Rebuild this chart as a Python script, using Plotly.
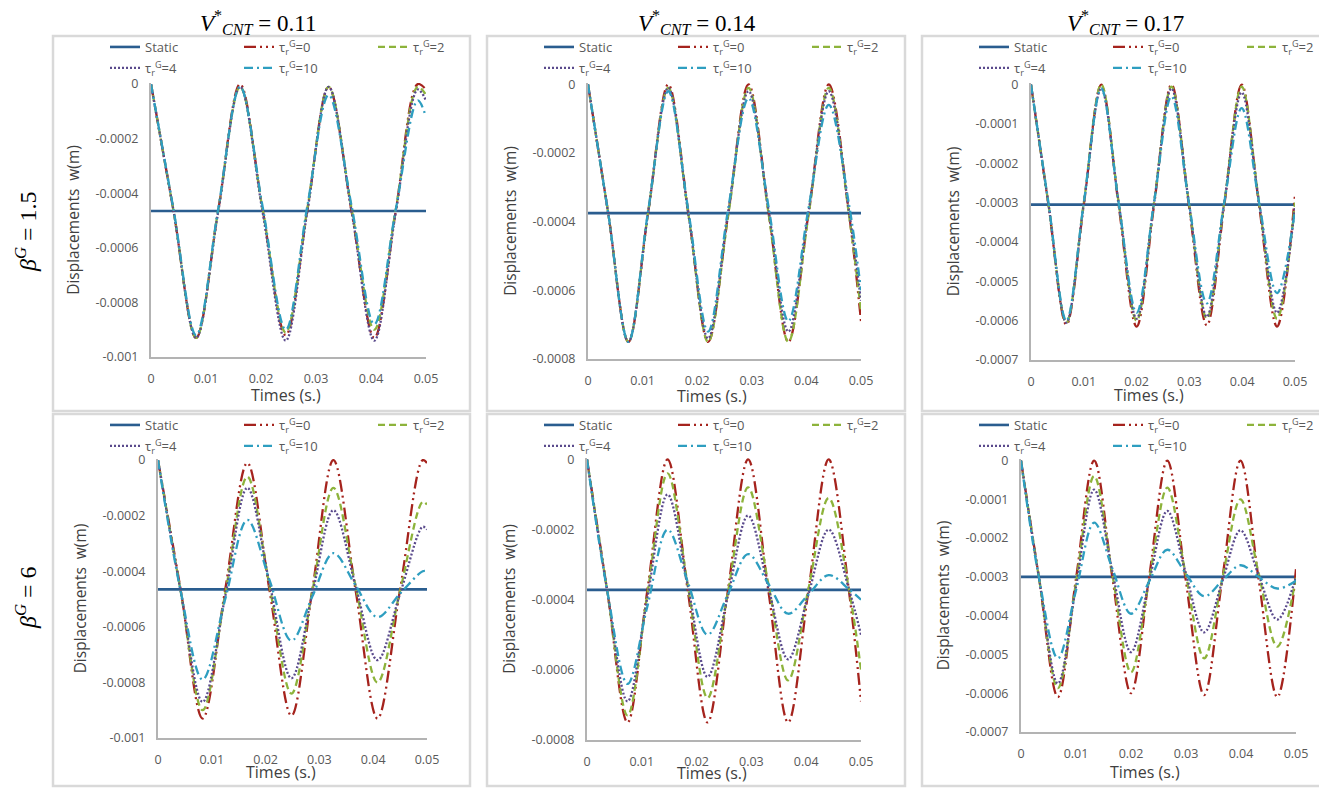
import plotly.graph_objects as go

# The page body has an 8px default margin, so the figure is sized to fill the window after it.
OFF = 8
FW, FH = 1327 - OFF, 789 - OFF


def fx(px):
    return (px - OFF) / FW


def fy(py):
    return 1 - (py - OFF) / FH


# ---------------- data ----------------
series_names = ["Static",
                "τ<sub>r</sub><sup>G</sup>=0",
                "τ<sub>r</sub><sup>G</sup>=2",
                "τ<sub>r</sub><sup>G</sup>=4",
                "τ<sub>r</sub><sup>G</sup>=10"]
col_values = ["0.11", "0.14", "0.17"]
row_values = ["1.5", "6"]

x_ticks = [0, 0.01, 0.02, 0.03, 0.04, 0.05]
x_tick_text = ["0", "0.01", "0.02", "0.03", "0.04", "0.05"]
y_ticks_a = [0, -0.0002, -0.0004, -0.0006, -0.0008, -0.001]
y_tick_text_a = ["0", "-0.0002", "-0.0004", "-0.0006", "-0.0008", "-0.001"]
y_ticks_b = [0, -0.0002, -0.0004, -0.0006, -0.0008]
y_tick_text_b = ["0", "-0.0002", "-0.0004", "-0.0006", "-0.0008"]
y_ticks_c = [0, -0.0001, -0.0002, -0.0003, -0.0004, -0.0005, -0.0006, -0.0007]
y_tick_text_c = ["0", "-0.0001", "-0.0002", "-0.0003", "-0.0004", "-0.0005", "-0.0006", "-0.0007"]

# Panel A: V*=0.11, beta=1.5
t_A = [0, 0.0041, 0.0082, 0.0122, 0.0162, 0.0203, 0.0245, 0.0284, 0.0323, 0.0365, 0.0406, 0.0445, 0.0485, 0.05]
static_A = [-0.000465, -0.000465]
w0_A = [0, -0.000465, -0.00093, -0.000465, 0, -0.00046, -0.00092, -0.000465, -0.00001, -0.00047, -0.00093, -0.000465, 0, -0.00002]
w2_A = [0, -0.000465, -0.00093, -0.000465, -0.00001, -0.00046, -0.00091, -0.00046, -0.00001, -0.00046, -0.0009, -0.00046, -0.00001, -0.00004]
w4_A = [0, -0.000465, -0.00093, -0.00047, -0.00001, -0.00047, -0.00094, -0.00047, -0.00001, -0.00047, -0.00094, -0.00047, -0.00002, -0.00006]
w10_A = [0, -0.00046, -0.00092, -0.00046, -0.00001, -0.00045, -0.0009, -0.00045, -0.00004, -0.00045, -0.00088, -0.00046, -0.00006, -0.00012]

# Panel B: V*=0.14, beta=1.5
t_B = [0, 0.0037, 0.0074, 0.011, 0.0147, 0.0184, 0.022, 0.0257, 0.0294, 0.0331, 0.0367, 0.0404, 0.0441, 0.0478, 0.05]
static_B = [-0.000375, -0.000375]
w0_B = [0, -0.000375, -0.00075, -0.000375, 0, -0.000375, -0.00075, -0.000375, 0, -0.000375, -0.00075, -0.000375, 0, -0.000375, -0.00069]
w2_B = [0, -0.000375, -0.00075, -0.000375, -0.00001, -0.00038, -0.00075, -0.00038, -0.00001, -0.00038, -0.00075, -0.00038, -0.00001, -0.00038, -0.00066]
w4_B = [0, -0.000375, -0.00075, -0.000375, -0.00001, -0.00038, -0.00074, -0.00037, -0.00002, -0.00037, -0.00072, -0.00037, -0.00002, -0.00037, -0.00063]
w10_B = [0, -0.000375, -0.00075, -0.00037, -0.00002, -0.00037, -0.00072, -0.00036, -0.00004, -0.00036, -0.00069, -0.00036, -0.00006, -0.00035, -0.0006]

# Panel C: V*=0.17, beta=1.5
t_C = [0, 0.0033, 0.0067, 0.01, 0.0133, 0.0166, 0.02, 0.0233, 0.0266, 0.0299, 0.0333, 0.0366, 0.0399, 0.0432, 0.0466, 0.05]
static_C = [-0.000305, -0.000305]
w0_C = [0, -0.000305, -0.00061, -0.000305, 0, -0.000307, -0.000615, -0.000307, 0, -0.000306, -0.000612, -0.000307, 0, -0.000307, -0.000615, -0.00028]
w2_C = [0, -0.000303, -0.000605, -0.0003, 0, -0.0003, -0.0006, -0.0003, -0.000005, -0.0003, -0.000595, -0.0003, -0.000005, -0.0003, -0.000595, -0.0003]
w4_C = [0, -0.000303, -0.000605, -0.000303, -0.00001, -0.0003, -0.000595, -0.0003, -0.00001, -0.0003, -0.00059, -0.0003, -0.00002, -0.0003, -0.00058, -0.00031]
w10_C = [0, -0.0003, -0.0006, -0.0003, -0.00001, -0.0003, -0.00058, -0.0003, -0.00003, -0.0003, -0.000556, -0.0003, -0.00006, -0.0003, -0.00053, -0.00032]

# Panel D: V*=0.11, beta=6
t_D = [0, 0.0042, 0.0083, 0.0125, 0.0166, 0.0207, 0.0248, 0.0287, 0.0326, 0.0367, 0.0408, 0.045, 0.0492, 0.05]
static_D = [-0.000465, -0.000465]
w0_D = [0, -0.000465, -0.00093, -0.000465, -0.00001, -0.000465, -0.00092, -0.000465, 0, -0.000465, -0.00093, -0.000465, 0, -0.00001]
w2_D = [0, -0.00047, -0.0009, -0.00048, -0.00006, -0.00045, -0.00084, -0.00047, -0.0001, -0.00045, -0.0008, -0.00047, -0.00015, -0.00016]
w4_D = [0, -0.00047, -0.00087, -0.00049, -0.0001, -0.00044, -0.000785, -0.00048, -0.00018, -0.00045, -0.00072, -0.00048, -0.00024, -0.00025]
w10_D = [0, -0.00047, -0.00079, -0.0005, -0.000215, -0.00043, -0.00065, -0.00049, -0.000335, -0.00045, -0.000565, -0.00048, -0.0004, -0.0004]

# Panel E: V*=0.14, beta=6
t_E = [0, 0.0037, 0.0074, 0.011, 0.0147, 0.0184, 0.022, 0.0257, 0.0294, 0.0331, 0.0367, 0.0404, 0.0441, 0.0478, 0.05]
static_E = [-0.000372, -0.000372]
w0_E = [0, -0.000375, -0.00075, -0.000375, 0, -0.000375, -0.00075, -0.000375, 0, -0.000375, -0.00075, -0.000375, 0, -0.000375, -0.00069]
w2_E = [0, -0.000375, -0.00073, -0.000385, -0.00004, -0.00036, -0.00068, -0.00038, -0.00008, -0.000355, -0.00063, -0.00037, -0.00011, -0.00037, -0.0006]
w4_E = [0, -0.000375, -0.00069, -0.000395, -0.0001, -0.00036, -0.00062, -0.00039, -0.00016, -0.000365, -0.00057, -0.000385, -0.0002, -0.00037, -0.0005]
w10_E = [0, -0.000375, -0.00064, -0.00042, -0.0002, -0.00035, -0.0005, -0.000385, -0.00027, -0.000355, -0.00044, -0.000385, -0.00033, -0.00037, -0.0004]

# Panel F: V*=0.17, beta=6
t_F = [0, 0.0033, 0.0067, 0.01, 0.0133, 0.0166, 0.02, 0.0233, 0.0266, 0.0299, 0.0333, 0.0366, 0.0399, 0.0432, 0.0466, 0.05]
static_F = [-0.0003, -0.0003]
w0_F = [0, -0.000305, -0.00061, -0.000305, 0, -0.0003, -0.0006, -0.0003, 0, -0.000303, -0.000605, -0.000305, 0, -0.000305, -0.00061, -0.00028]
w2_F = [0, -0.000305, -0.000587, -0.000315, -0.00004, -0.000293, -0.000546, -0.000308, -0.00007, -0.00029, -0.00051, -0.000305, -0.0001, -0.00029, -0.00048, -0.0003]
w4_F = [0, -0.000305, -0.000575, -0.000325, -0.000075, -0.000285, -0.000494, -0.000312, -0.00013, -0.000287, -0.000443, -0.000312, -0.00018, -0.000295, -0.00041, -0.0003]
w10_F = [0, -0.000305, -0.00051, -0.000335, -0.00016, -0.000278, -0.000395, -0.000312, -0.00023, -0.00029, -0.00035, -0.00031, -0.00027, -0.0003, -0.00033, -0.00031]

# ---------------- styling / layout ----------------
line_styles = [
    dict(color="#2A5D8F", width=2.6, dash="solid"),
    dict(color="#A5231D", width=2.3, dash="12px,4px,2px,4px,2px,4px"),
    dict(color="#8DB33B", width=2.3, dash="7px,4px"),
    dict(color="#5A4A8C", width=2.3, dash="2px,2px"),
    dict(color="#2E9EC0", width=2.3, dash="9px,4px,2px,4px"),
]

# pixel geometry (window pixels): axis (x0, x1, y_top, y_bottom), box (x0, y0, x1, y1), x-title centre
panels = [
    dict(t=t_A, st=static_A, ws=[w0_A, w2_A, w4_A, w10_A], yt=y_ticks_a, ytt=y_tick_text_a, ymin=-0.001,
         ax=(151, 426, 83, 357), box=(53, 36, 470, 411), xt=(286, 395)),
    dict(t=t_B, st=static_B, ws=[w0_B, w2_B, w4_B, w10_B], yt=y_ticks_b, ytt=y_tick_text_b, ymin=-0.0008,
         ax=(588, 861, 83, 359), box=(487, 36, 905, 411), xt=(712, 396)),
    dict(t=t_C, st=static_C, ws=[w0_C, w2_C, w4_C, w10_C], yt=y_ticks_c, ytt=y_tick_text_c, ymin=-0.0007,
         ax=(1031, 1295, 83, 360), box=(922, 36, 1322, 411), xt=(1149, 395)),
    dict(t=t_D, st=static_D, ws=[w0_D, w2_D, w4_D, w10_D], yt=y_ticks_a, ytt=y_tick_text_a, ymin=-0.001,
         ax=(158, 427, 459, 738), box=(53, 414, 470, 786), xt=(281, 772)),
    dict(t=t_E, st=static_E, ws=[w0_E, w2_E, w4_E, w10_E], yt=y_ticks_b, ytt=y_tick_text_b, ymin=-0.0008,
         ax=(587, 861, 458, 740), box=(487, 414, 905, 786), xt=(712, 773)),
    dict(t=t_F, st=static_F, ws=[w0_F, w2_F, w4_F, w10_F], yt=y_ticks_c, ytt=y_tick_text_c, ymin=-0.0007,
         ax=(1021, 1296, 459, 732), box=(922, 414, 1322, 786), xt=(1145, 772)),
]

fig = go.Figure()
layout = dict(width=FW, height=FH, margin=dict(l=0, r=0, t=0, b=0, autoexpand=False), autosize=False,
              paper_bgcolor="white", plot_bgcolor="white",
              font=dict(family="Open Sans", color="#595959"), showlegend=True)
shapes = []
annotations = []

for i, p in enumerate(panels):
    n = i + 1
    xa = "x" if n == 1 else f"x{n}"
    ya = "y" if n == 1 else f"y{n}"
    leg1 = "legend" if n == 1 else f"legend{2 * n - 1}"
    leg2 = f"legend{2 * n}"
    t = p["t"]
    ys = [p["st"]] + p["ws"]
    xs = [[t[0], t[-1]]] + [t] * 4
    for k in range(5):
        fig.add_trace(go.Scatter(
            x=xs[k], y=ys[k], mode="lines", name=series_names[k],
            line=dict(shape="spline" if k > 0 else "linear", smoothing=1.0, **line_styles[k]),
            xaxis=xa, yaxis=ya, legend=leg1 if k < 3 else leg2, showlegend=True,
            hoverinfo="skip"))
    x0, x1, yt, yb = p["ax"]
    xkey = "xaxis" if n == 1 else f"xaxis{n}"
    ykey = "yaxis" if n == 1 else f"yaxis{n}"
    layout[xkey] = dict(domain=[fx(x0), fx(x1)], anchor=ya, range=[0, 0.05],
                        showline=True, linecolor="#B3B3B3", linewidth=2, showgrid=False,
                        zeroline=False, ticks="", tickvals=x_ticks, ticktext=x_tick_text,
                        tickfont=dict(size=12.5, color="#595959"), ticklabelstandoff=9,
                        automargin=False, fixedrange=True)
    layout[ykey] = dict(domain=[fy(yb), fy(yt)], anchor=xa,
                        range=[p["ymin"], 0.000004],
                        showline=True, linecolor="#B3B3B3", linewidth=2, showgrid=False,
                        zeroline=False, ticks="", tickvals=p["yt"], ticktext=p["ytt"],
                        tickfont=dict(size=12.5, color="#595959"), ticklabelstandoff=8,
                        title=dict(text="Displacements\u00a0 w(m)", font=dict(size=15.5, color="#404040"),
                                   standoff=12),
                        automargin=False, fixedrange=True)
    bx0, by0, bx1, by1 = p["box"]
    shapes.append(dict(type="rect", xref="paper", yref="paper",
                       x0=fx(bx0), x1=fx(bx1), y0=fy(by1), y1=fy(by0),
                       line=dict(color="#D9D9D9", width=2.5), fillcolor="rgba(0,0,0,0)", layer="below"))
    legstyle = dict(orientation="h", xanchor="left", yanchor="top", bgcolor="rgba(0,0,0,0)",
                    font=dict(size=13, color="#595959", family="Open Sans"),
                    entrywidth=89, entrywidthmode="pixels", itemwidth=30, borderwidth=0,
                    tracegroupgap=0)
    layout[leg1] = dict(x=fx(bx0 + 52), y=fy(by0 - 4), **legstyle)
    layout[leg2] = dict(x=fx(bx0 + 52), y=fy(by0 + 17), **legstyle)
    annotations.append(dict(text="Times (s.)", x=fx(p["xt"][0]), y=fy(p["xt"][1]),
                            xref="paper", yref="paper", xanchor="center", yanchor="middle",
                            showarrow=False, font=dict(size=16, color="#404040", family="Open Sans")))

col_centers = [258, 697, 1125]
for c, v in enumerate(col_values):
    annotations.append(dict(
        text=f"<i>V</i><sup>*</sup><sub><i>CNT</i></sub> = {v}",
        x=fx(col_centers[c]), y=fy(23), xref="paper", yref="paper",
        xanchor="center", yanchor="middle", showarrow=False,
        font=dict(family="Liberation Serif", size=23, color="#000000")))
row_centers = [232, 598]
for r, v in enumerate(row_values):
    annotations.append(dict(
        text=f"<i>β</i><sup><i>G</i></sup> = {v}",
        x=fx(26), y=fy(row_centers[r]), xref="paper", yref="paper",
        xanchor="center", yanchor="middle", showarrow=False, textangle=-90,
        font=dict(family="Liberation Serif", size=24, color="#000000")))

layout["shapes"] = shapes
layout["annotations"] = annotations
fig.update_layout(**layout)
fig.write_html("out.html")
